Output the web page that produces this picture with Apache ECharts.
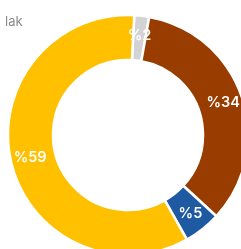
<!DOCTYPE html>
<html>
<head>
<meta charset="utf-8">
<script src="https://cdn.jsdelivr.net/npm/echarts@6/dist/echarts.min.js"></script>
<style>
  html, body { margin: 0; padding: 0; background: #fff; }
  #chart { width: 241px; height: 249px; }
</style>
</head>
<body>
<div id="chart"></div>
<script>
// slices, clockwise from (just past) 12 o'clock
const names = ['Diğer', 'Kahve', 'Mavi', 'Sarı'];
const values = [2, 34, 5, 59];
const colors = ['#d3d3d5', '#993c00', '#1d5aa2', '#ffc000'];
const titleText = 'lak';

const chart = echarts.init(document.getElementById('chart'));

const pieData = names.map((n, i) => ({
  name: n,
  value: values[i],
  itemStyle: { color: colors[i] }
}));

const option = {
  animation: false,
  title: {
    text: titleText,
    left: 0,
    top: 11,
    textStyle: { fontSize: 13, fontWeight: 'normal', color: '#8a8a8a', fontFamily: 'Inter' }
  },
  series: [
    {
      type: 'pie',
      center: [128, 135],
      radius: [75, 120],
      startAngle: 87,
      clockwise: true,
      data: pieData,
      itemStyle: { borderColor: '#fff', borderWidth: 2.5 },
      label: {
        show: true,
        position: 'inside',
        formatter: p => '%' + p.value,
        color: '#fff',
        fontSize: 14.5,
        fontWeight: 600,
        fontFamily: 'Inter'
      },
      labelLine: { show: false }
    }
  ]
};

chart.setOption(option);
</script>
</body>
</html>
